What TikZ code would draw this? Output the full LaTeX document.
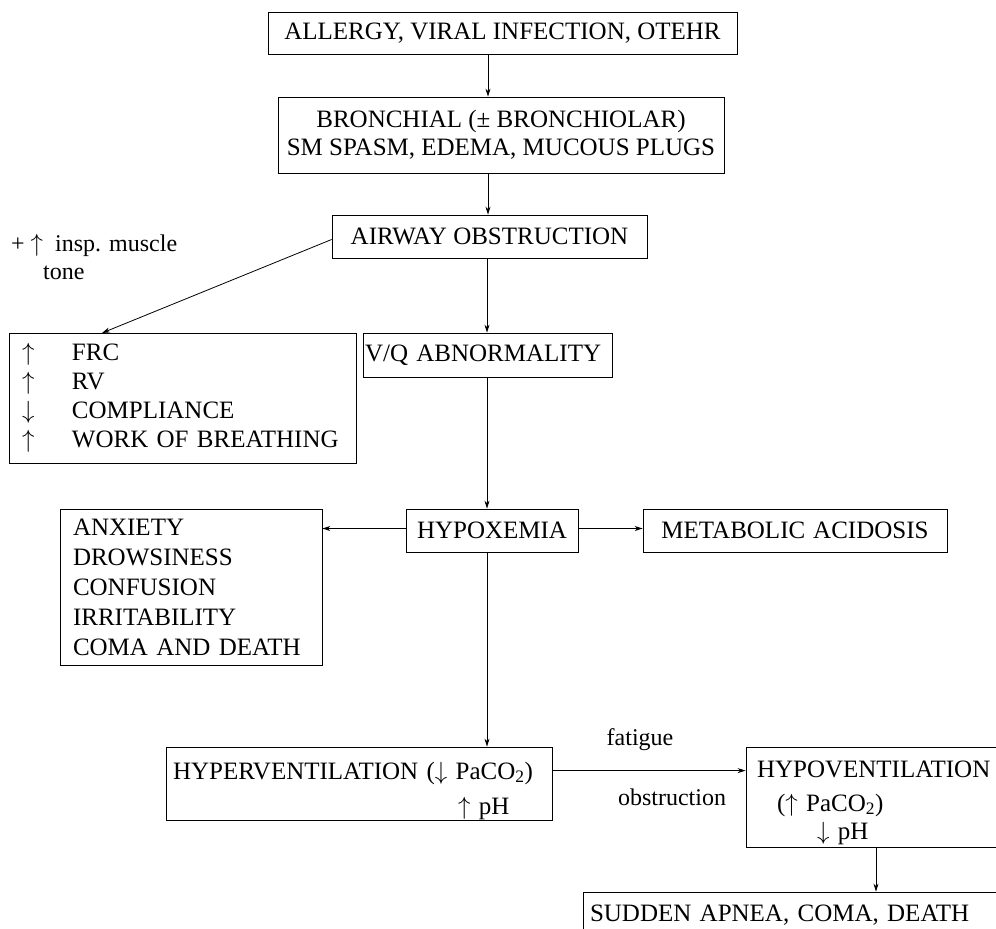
\documentclass[tikz,border=0pt]{standalone}
\usepackage{fontspec}
\setmainfont{Liberation Serif}
\usetikzlibrary{arrows.meta}
\begin{document}
\begin{tikzpicture}[x=1pt,y=-1pt,
  box/.style={draw, line width=0.8pt, rectangle, inner sep=0pt, align=center,
    font=\fontsize{25}{30}\selectfont},
  lbox/.style={box, align=left, inner xsep=13pt},
  arr/.style={-{Stealth[length=8pt,width=5pt]}, line width=0.8pt},
  lab/.style={font=\fontsize{24}{28}\selectfont, inner sep=0pt}]
\useasboundingbox (0,0) rectangle (996,929);

% boxes
\node[box, minimum width=469pt, minimum height=42pt] (top) at (502.5,33)
  {ALLERGY, VIRAL INFECTION, OTEHR};
\node[box, minimum width=446pt, minimum height=76pt] (bronch) at (501,135)
  {BRONCHIAL (± BRONCHIOLAR)\\[-2pt]SM SPASM, EDEMA, MUCOUS PLUGS};
\node[box, minimum width=315pt, minimum height=43pt] (airway) at (489.5,236.5)
  {AIRWAY OBSTRUCTION};
\node[lbox, text width=321pt, minimum height=130pt,
  font=\fontsize{25}{29}\selectfont] (frc) at (182.5,398)
  {\begin{tabular}{@{}p{50pt}@{}l@{}}
   $\uparrow$ & FRC\\
   $\uparrow$ & RV\\
   $\downarrow$ & COMPLIANCE\\
   $\uparrow$ & WORK OF BREATHING
   \end{tabular}};
\node[lbox, inner xsep=2pt, text width=245pt, minimum height=44pt] (vq) at (487.5,355)
  {V/Q ABNORMALITY};
\node[box, minimum width=172pt, minimum height=43pt] (hypox) at (492,530.5)
  {HYPOXEMIA};
\node[lbox, text width=236pt, minimum height=156pt] (anx) at (191,587)
  {ANXIETY\\DROWSINESS\\CONFUSION\\IRRITABILITY\\COMA AND DEATH};
\node[box, minimum width=304pt, minimum height=43pt] (metab) at (795,530.5)
  {METABOLIC\hspace{8pt}ACIDOSIS};
\node[lbox, inner xsep=7pt, text width=372pt, minimum height=73pt] (hyper) at (359,783.5)
  {\raisebox{-7pt}[\height][\depth]{\begin{tabular}{@{}l@{}}
   HYPERVENTILATION ($\downarrow$ PaCO\textsubscript{2})\\[5pt]
   \hspace*{285pt}$\uparrow$ pH\end{tabular}}};
\node[lbox, inner xsep=11pt, text width=242pt, minimum height=100pt] (hypo) at (878,797)
  {\raisebox{-5pt}[\height][\depth]{\begin{tabular}{@{}l@{}}
   HYPOVENTILATION\\[4pt]
   \hspace*{20pt}($\uparrow$ PaCO\textsubscript{2})\\[-2pt]
   \hspace*{60pt}$\downarrow$ pH\end{tabular}}};
\node[lbox, inner xsep=7pt, text width=413pt, minimum height=53pt] (sudden) at (796.5,918.5)
  {\raisebox{10pt}{SUDDEN APNEA, COMA, DEATH}};

% labels
\node[lab, anchor=west] (insp) at (11,245) {+\hspace{6pt}$\uparrow$\hspace{12pt}insp. muscle};
\node[lab, anchor=west] (tone) at (43,273) {tone};
\node[lab] (fatigue) at (640,740) {fatigue};
\node[lab] (obstr) at (672,797) {obstruction};

% helper coordinates
\coordinate (sp1) at (488,0);
\coordinate (sp2) at (487,0);
\coordinate (frcin) at (102,333);
\coordinate (sp3) at (876,0);

% connectors
\draw[arr] (top.south -| sp1) -- (bronch.north -| sp1);
\draw[arr] (bronch.south -| sp1) -- (airway.north -| sp1);
\draw[arr] (airway.south -| sp2) -- (vq.north -| sp2);
\draw[arr] ([yshift=-3pt]airway.west) -- (frcin);
\draw[arr] (vq.south -| sp2) -- (hypox.north -| sp2);
\draw[arr] ([yshift=2pt]hypox.west) -- ([yshift=2pt]hypox.west -| anx.east);
\draw[arr] ([yshift=2pt]hypox.east) -- ([yshift=2pt]hypox.east -| metab.west);
\draw[arr] (hypox.south -| sp2) -- (hyper.north -| sp2);
\draw[arr] ([yshift=-24pt]hyper.north east) -- ([yshift=-24pt]hyper.north east -| hypo.west);
\draw[arr] (hypo.south -| sp3) -- (sudden.north -| sp3);
\end{tikzpicture}
\end{document}
